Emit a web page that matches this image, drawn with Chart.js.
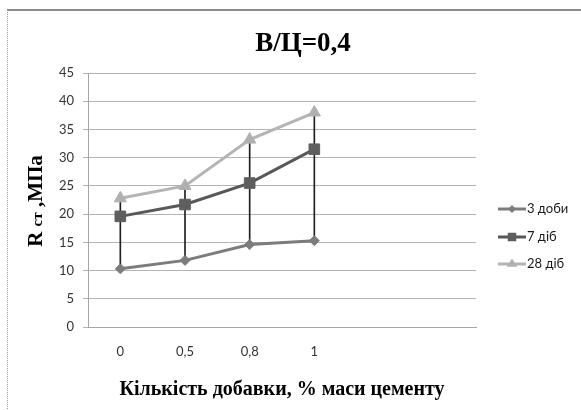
<!DOCTYPE html>
<html lang="uk">
<head>
<meta charset="UTF-8">
<title>В/Ц=0,4</title>
<script src="https://cdn.jsdelivr.net/npm/chart.js"></script>
<style>
  html, body { margin: 0; padding: 0; background: #fff; overflow: hidden; }
  /* frame of the original chart object: grey line on top, dotted one on the left */
  #frame { position: absolute; left: 7px; top: 9px; width: 700px; height: 500px;
           border-top: 2px solid #8c8c8c; border-left: 1px dotted #9a9a9a; }
  #plot { position: absolute; left: 0; top: 0; width: 581px; height: 410px; }
</style>
</head>
<body>
<div id="frame"></div>
<div id="plot"><canvas id="myChart" width="581" height="410"></canvas></div>
<script>
// categories (two empty slots as in the source sheet)
const categories = ['0', '0,5', '0,8', '1', '', ''];

// R ст, MPa
const days3 = [10.3, 11.8, 14.6, 15.3];
const days7 = [19.6, 21.7, 25.5, 31.5];
const days28 = [22.8, 25.0, 33.2, 38.0];

const seriesNames = ['3 доби', '7 діб', '28 діб'];
const yMin = 0, yMax = 45, yStep = 5;

const titleText = 'В/Ц=0,4';
const xTitle = 'Кількість добавки, % маси цементу';

// high-low lines: from the lowest to the highest value of each category
const dropLines = days3.map((v, i) => [
  Math.min(days3[i], days7[i], days28[i]),
  Math.max(days3[i], days7[i], days28[i])
]);

const tickFont = { family: 'Lato', size: 13 };

function marker(ctx, style, x, y, r) {
  ctx.beginPath();
  if (style === 'rectRot') {
    ctx.moveTo(x, y - r); ctx.lineTo(x + r, y); ctx.lineTo(x, y + r); ctx.lineTo(x - r, y);
  } else if (style === 'rect') {
    const s = r * Math.SQRT1_2;
    ctx.rect(x - s, y - s, 2 * s, 2 * s);
  } else {
    const h = r * 1.5;
    ctx.moveTo(x, y - r); ctx.lineTo(x + r * 0.95, y + h - r); ctx.lineTo(x - r * 0.95, y + h - r);
  }
  ctx.closePath();
  ctx.fill();
}

// title, y axis title and legend
const decor = {
  id: 'decor',
  afterDraw(chart) {
    const ctx = chart.ctx;
    ctx.save();
    ctx.fillStyle = '#000';
    ctx.textAlign = 'center';
    ctx.textBaseline = 'alphabetic';
    ctx.font = 'bold 27px "Liberation Serif"';
    ctx.fillText(titleText, 303, 51);
    ctx.restore();

    // y title, rotated, "ст" smaller
    const parts = [
      { t: 'R', f: 'bold 21px "Liberation Serif"' },
      { t: ' ', f: 'bold 21px "Liberation Serif"' },
      { t: 'ст', f: 'bold 15px "Liberation Serif"' },
      { t: ' ,МПа', f: 'bold 21px "Liberation Serif"' }
    ];
    ctx.save();
    ctx.translate(42, 201);
    ctx.rotate(-Math.PI / 2);
    ctx.fillStyle = '#000';
    ctx.textBaseline = 'alphabetic';
    let total = 0;
    parts.forEach(p => { ctx.font = p.f; p.w = ctx.measureText(p.t).width; total += p.w; });
    let u = -total / 2;
    parts.forEach(p => { ctx.font = p.f; ctx.fillText(p.t, u, 0); u += p.w; });
    ctx.restore();

    // legend
    const rows = [209, 237, 264];
    ctx.save();
    chart.data.datasets.filter(d => d.type !== 'bar').forEach((ds, i) => {
      const y = rows[i];
      ctx.strokeStyle = ds.borderColor;
      ctx.fillStyle = ds.pointBackgroundColor;
      ctx.lineWidth = 3;
      ctx.beginPath();
      ctx.moveTo(498, y); ctx.lineTo(526, y);
      ctx.stroke();
      marker(ctx, ds.pointStyle, 512, y, ds.pointRadius * 0.8);
      ctx.fillStyle = '#1a1a1a';
      ctx.font = '13px Lato';
      ctx.textAlign = 'left';
      ctx.textBaseline = 'middle';
      ctx.fillText(ds.label, 527, y);
    });
    ctx.restore();
  }
};

const ctx = document.getElementById('myChart').getContext('2d');
const myChart = new Chart(ctx, {
  type: 'line',
  data: {
    labels: categories,
    datasets: [
      {
        label: seriesNames[0],
        data: days3,
        borderColor: '#7c7c7c',
        pointBackgroundColor: '#7c7c7c',
        pointBorderColor: '#7c7c7c',
        borderWidth: 3,
        pointStyle: 'rectRot',
        pointRadius: 5,
        pointBorderWidth: 1,
        order: 3
      },
      {
        label: seriesNames[1],
        data: days7,
        borderColor: '#585858',
        pointBackgroundColor: '#5e5e5e',
        pointBorderColor: '#5e5e5e',
        borderWidth: 3,
        pointStyle: 'rect',
        pointRadius: 7.5,
        pointBorderWidth: 1,
        order: 2
      },
      {
        label: seriesNames[2],
        data: days28,
        borderColor: '#b4b4b4',
        pointBackgroundColor: '#b0b0b0',
        pointBorderColor: '#b0b0b0',
        borderWidth: 3,
        pointStyle: 'triangle',
        pointRadius: 7,
        pointBorderWidth: 1,
        order: 1
      },
      {
        type: 'bar',
        label: 'high-low',
        data: dropLines,
        backgroundColor: '#202020',
        borderWidth: 0,
        barThickness: 1,
        order: 10
      }
    ]
  },
  options: {
    responsive: false,
    animation: false,
    devicePixelRatio: 1,
    layout: { padding: { top: 73, right: 105, left: 0, bottom: 0 } },
    plugins: {
      legend: { display: false },
      title: { display: false },
      tooltip: { enabled: false }
    },
    scales: {
      x: {
        type: 'category',
        offset: true,
        grid: { display: false, drawTicks: false },
        border: { display: true, color: '#a6a6a6', width: 1 },
        ticks: { font: tickFont, color: '#333', padding: 17, autoSkip: false, maxRotation: 0 },
        title: {
          display: true,
          text: xTitle,
          color: '#000',
          font: { family: 'Liberation Serif', size: 20, weight: 'bold' },
          padding: { top: 4, bottom: 8 }
        },
        afterFit: s => { s.height = 83; }
      },
      y: {
        min: yMin,
        max: yMax,
        ticks: { stepSize: yStep, font: tickFont, color: '#333', padding: 9 },
        grid: { color: '#b4b4b4', tickLength: 5, lineWidth: 1 },
        border: { display: true, color: '#a6a6a6', width: 1 },
        afterFit: s => { s.width = 88; }
      }
    }
  },
  plugins: [decor]
});
</script>
</body>
</html>
